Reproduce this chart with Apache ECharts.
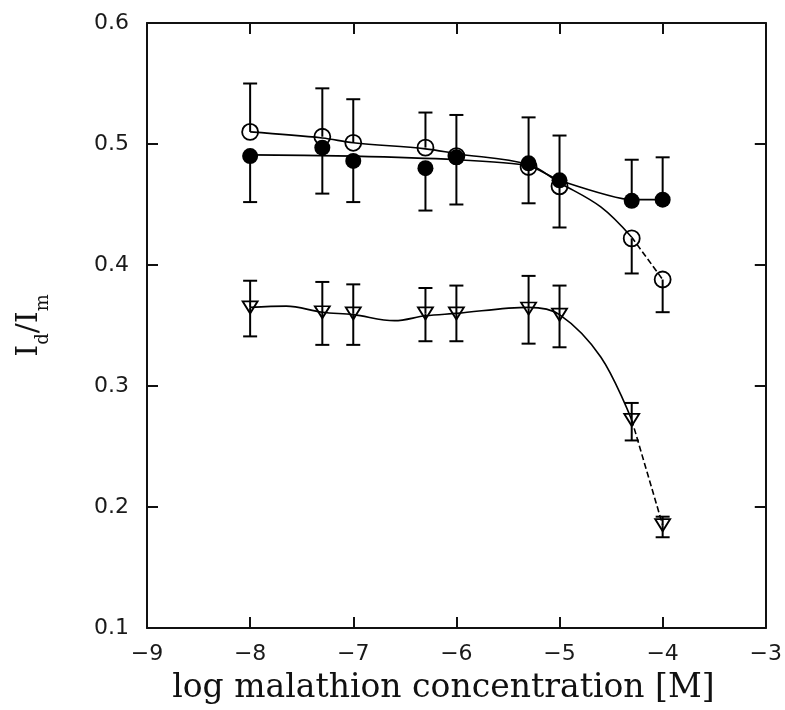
<!DOCTYPE html>
<html><head><meta charset="utf-8">
<script src="https://cdn.jsdelivr.net/npm/echarts@6/dist/echarts.min.js"></script>
<style>html,body{margin:0;padding:0;background:#fff}#c{width:785px;height:710px}</style>
</head><body><div id="c"></div>
<script>
// log malathion concentration [M]
const concX = [-8, -7.3, -7, -6.3, -6, -5.3, -5, -4.3, -4];
// filled circles (one-sided error bars as drawn in the figure)
const filledY       = [0.490, 0.497, 0.486, 0.480, 0.489, 0.484, 0.470, 0.453, 0.454];
const filledErrUp   = [0, 0, 0, 0, 0, 0, 0.037, 0.034, 0.035];
const filledErrDown = [0.038, 0.038, 0.034, 0.035, 0.039, 0.033, 0, 0, 0];
// open circles
const openY       = [0.510, 0.506, 0.501, 0.497, 0.490, 0.481, 0.465, 0.422, 0.388];
const openErrUp   = [0.040, 0.040, 0.036, 0.029, 0.034, 0.041, 0, 0, 0];
const openErrDown = [0, 0, 0, 0, 0, 0, 0.034, 0.029, 0.027];
// open triangles
const triY       = [0.365, 0.361, 0.360, 0.360, 0.360, 0.364, 0.359, 0.272, 0.185];
const triErrUp   = [0.022, 0.025, 0.024, 0.021, 0.023, 0.027, 0.024, 0.014, 0.007];
const triErrDown = [0.024, 0.027, 0.026, 0.023, 0.023, 0.029, 0.027, 0.017, 0.010];
// fitted curves
const fitFilledX = [-8, -7, -6, -5.3, -5, -4.3, -4];
const fitFilledY = [0.491, 0.490, 0.487, 0.482, 0.470, 0.454, 0.454];
const fitOpenX = [-8, -7.3, -7, -6.3, -6, -5.3, -5, -4.6, -4.3, -4];
const fitOpenY = [0.510, 0.505, 0.501, 0.496, 0.492, 0.483, 0.468, 0.448, 0.423, 0.388];
const fitTriX = [-8, -7.65, -7.3, -7, -6.6, -6.3, -6, -5.3, -5, -4.6, -4.3, -4];
const fitTriY = [0.365, 0.366, 0.361, 0.359, 0.354, 0.358, 0.360, 0.365, 0.359, 0.324, 0.272, 0.185];
// axes
const xTicks = [-9, -8, -7, -6, -5, -4, -3];
const yTicks = [0.1, 0.2, 0.3, 0.4, 0.5, 0.6];

const zip = (a, b) => a.map((v, i) => [v, b[i]]);
const AXC = '#111';

function errBars(ys, up, down) {
  return {
    type: 'custom', z: 1, silent: true,
    data: concX.map((x, i) => [x, ys[i], ys[i] - down[i], ys[i] + up[i]]),
    encode: { x: 0, y: [2, 3] },
    renderItem: (params, api) => {
      const c = api.coord([api.value(0), api.value(1)]);
      const lo = api.coord([api.value(0), api.value(2)]);
      const hi = api.coord([api.value(0), api.value(3)]);
      const w = 7;
      const st = { stroke: '#000', lineWidth: 2 };
      const ch = [];
      [lo, hi].forEach(p => {
        if (Math.abs(p[1] - c[1]) < 0.5) return;
        ch.push({ type: 'line', shape: { x1: c[0], y1: c[1], x2: p[0], y2: p[1] }, style: st });
        ch.push({ type: 'line', shape: { x1: p[0] - w, y1: p[1], x2: p[0] + w, y2: p[1] }, style: st });
      });
      return { type: 'group', children: ch };
    }
  };
}
function curve(xs, ys, dashed, sm) {
  return { type: 'line', z: 2, data: zip(xs, ys), smooth: sm, showSymbol: false, silent: true,
    lineStyle: { color: '#000', width: 1.6, type: dashed ? [6, 3] : 'solid' } };
}

const tickStyle = { show: true, inside: true, length: 11, lineStyle: { color: AXC, width: 2 } };
const lineStyle = { show: true, lineStyle: { color: AXC, width: 2 } };
const labelFont = { fontFamily: 'DejaVu Sans', fontSize: 22, color: '#1a1a1a' };

const option = {
  animation: false,
  backgroundColor: '#fff',
  grid: { left: 147, right: 18, top: 23, bottom: 82 },
  xAxis: [
    { type: 'value', min: xTicks[0], max: xTicks[xTicks.length - 1], interval: 1, position: 'bottom',
      axisLine: lineStyle, axisTick: tickStyle, splitLine: { show: false },
      axisLabel: Object.assign({ margin: 15, formatter: v => (v < 0 ? '\u2212' : '') + Math.abs(v) }, labelFont),
      name: 'log malathion concentration [M]', nameLocation: 'middle', nameGap: 44,
      nameTextStyle: { fontFamily: 'DejaVu Serif', fontSize: 33, color: '#111', padding: [0, 26, 0, 0] } },
    { type: 'value', min: xTicks[0], max: xTicks[xTicks.length - 1], interval: 1, position: 'top',
      axisLine: lineStyle, axisTick: tickStyle, splitLine: { show: false }, axisLabel: { show: false } }
  ],
  yAxis: [
    { type: 'value', min: yTicks[0], max: yTicks[yTicks.length - 1], interval: 0.1, position: 'left',
      axisLine: lineStyle, axisTick: tickStyle, splitLine: { show: false },
      axisLabel: Object.assign({ margin: 18, formatter: v => v.toFixed(1) }, labelFont),
      name: '{a|I}{b|d}{a|/I}{b|m}', nameLocation: 'middle', nameGap: 95, nameRotate: 90,
      nameTextStyle: { fontFamily: 'DejaVu Serif', fontSize: 30, color: '#111',
        rich: { a: { fontFamily: 'DejaVu Serif', fontSize: 30, color: '#111', verticalAlign: 'bottom', padding: [0, 0, 8, 0] },
                b: { fontFamily: 'DejaVu Serif', fontSize: 18, color: '#111', verticalAlign: 'bottom' } } } },
    { type: 'value', min: yTicks[0], max: yTicks[yTicks.length - 1], interval: 0.1, position: 'right',
      axisLine: lineStyle, axisTick: tickStyle, splitLine: { show: false }, axisLabel: { show: false } }
  ],
  series: [
    errBars(triY, triErrUp, triErrDown),
    errBars(openY, openErrUp, openErrDown),
    errBars(filledY, filledErrUp, filledErrDown),
    curve(fitTriX.slice(0, 11), fitTriY.slice(0, 11), false, 0.35),
    curve(fitTriX.slice(10), fitTriY.slice(10), true, 0.35),
    curve(fitOpenX.slice(0, 9), fitOpenY.slice(0, 9), false, 0.35),
    curve(fitOpenX.slice(8), fitOpenY.slice(8), true, 0.35),
    curve(fitFilledX, fitFilledY, false, 0.2),
    { type: 'scatter', z: 3, data: zip(concX, triY), symbol: 'path://M0,0 L14,0 L7,11 Z', symbolSize: [15, 12],
      itemStyle: { color: 'rgba(255,255,255,0)', borderColor: '#000', borderWidth: 1.8, opacity: 1 } },
    { type: 'scatter', z: 3, data: zip(concX, openY), symbol: 'circle', symbolSize: 16,
      itemStyle: { color: 'rgba(255,255,255,0)', borderColor: '#000', borderWidth: 1.8, opacity: 1 } },
    { type: 'scatter', z: 4, data: zip(concX, filledY), symbol: 'circle', symbolSize: 16,
      itemStyle: { color: '#000', borderColor: '#000', borderWidth: 0, opacity: 1 } }
  ]
};
echarts.init(document.getElementById('c'), null, { renderer: 'canvas' }).setOption(option);
</script></body></html>
